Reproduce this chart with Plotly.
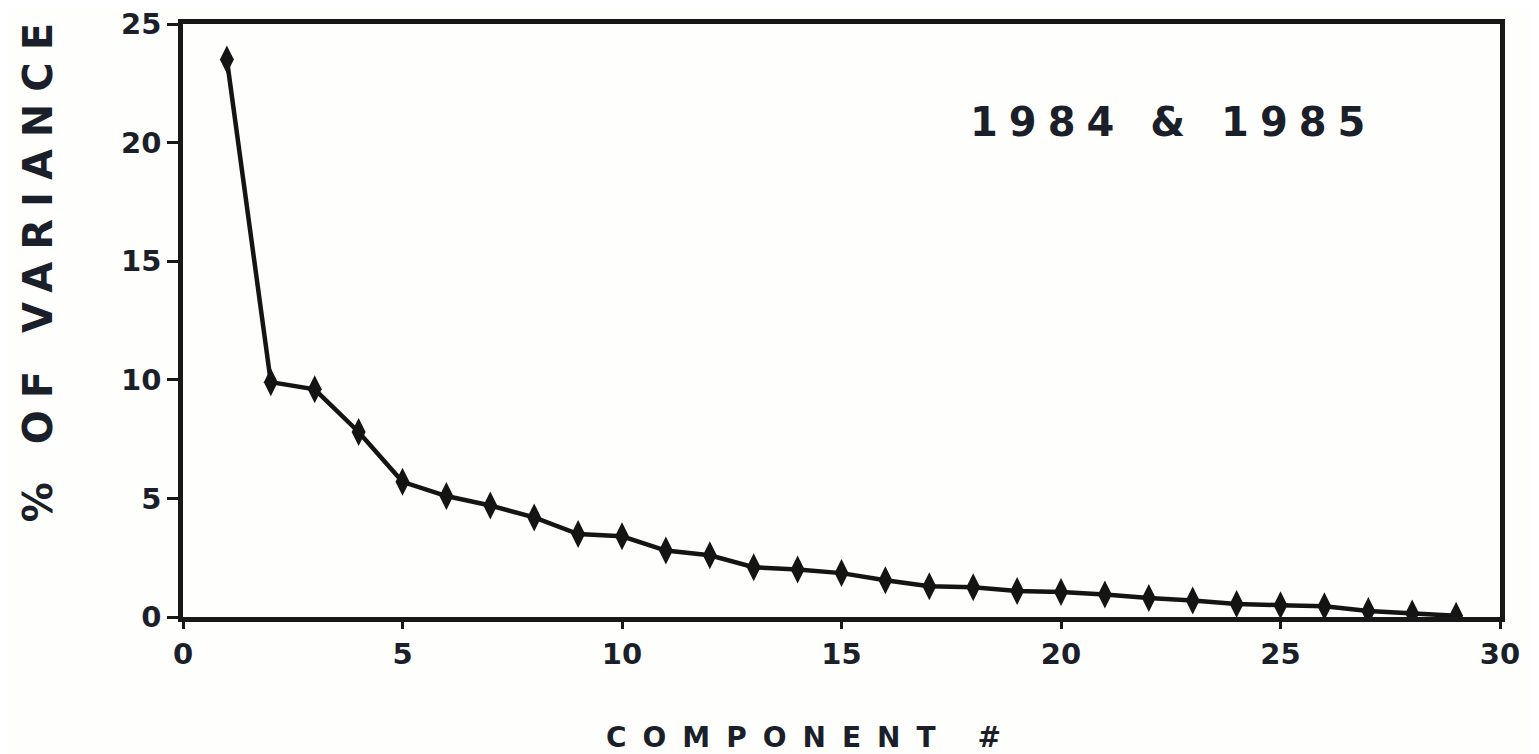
import plotly.graph_objects as go

# Data
components = list(range(1, 30))
pct_variance = [23.5, 9.9, 9.6, 7.8, 5.7, 5.1, 4.7, 4.2, 3.5, 3.4,
                2.8, 2.6, 2.1, 2.0, 1.85, 1.55, 1.3, 1.25, 1.1, 1.05,
                0.95, 0.8, 0.7, 0.55, 0.5, 0.45, 0.25, 0.15, 0.05]
x_ticks = [0, 5, 10, 15, 20, 25, 30]
y_ticks = [0, 5, 10, 15, 20, 25]

INK = "#1b1f2a"
FONT = "DejaVu Sans"

fig = go.Figure()
fig.add_trace(go.Scatter(
    x=components, y=pct_variance,
    mode="lines+markers",
    line=dict(color="#141414", width=4.5),
    marker=dict(symbol="diamond-tall", size=20, color="#141414",
                line=dict(width=0)),
    showlegend=False,
))

axis_common = dict(
    showline=True, linecolor="#181818", linewidth=4.5, mirror=True,
    ticks="outside", tickwidth=3, tickcolor="#181818",
    showgrid=False, zeroline=False, ticklabeloverflow="allow",
    automargin=False,
    tickfont=dict(family=FONT, size=29, color=INK, weight="bold"),
)

fig.update_xaxes(range=[0, 30], tickvals=x_ticks, ticklen=7, **axis_common)
fig.update_yaxes(range=[0, 25], tickvals=y_ticks, ticklen=11, **axis_common)

fig.update_layout(
    width=1531, height=746,
    margin=dict(l=175, r=39, t=16, b=137, autoexpand=False),
    paper_bgcolor="#fefefc", plot_bgcolor="#fefefc",
    annotations=[
        dict(text='<span style="letter-spacing:16px">COMPONENT #</span>',
             xref="paper", yref="paper", x=0.477, y=-0.203,
             xanchor="center", yanchor="middle", showarrow=False,
             font=dict(family=FONT, size=28, color=INK, weight="bold")),
        dict(text='<span style="letter-spacing:12px">% OF VARIANCE</span>',
             xref="paper", yref="paper", x=-0.110, y=0.59,
             xanchor="center", yanchor="middle", showarrow=False,
             textangle=-90,
             font=dict(family=FONT, size=40, color=INK, weight="bold")),
        dict(text='<span style="letter-spacing:11px">1984 &amp; 1985</span>',
             xref="paper", yref="paper", x=0.752, y=0.835,
             xanchor="center", yanchor="middle", showarrow=False,
             font=dict(family=FONT, size=40, color=INK, weight="bold")),
    ],
)

fig.write_html("out.html")
